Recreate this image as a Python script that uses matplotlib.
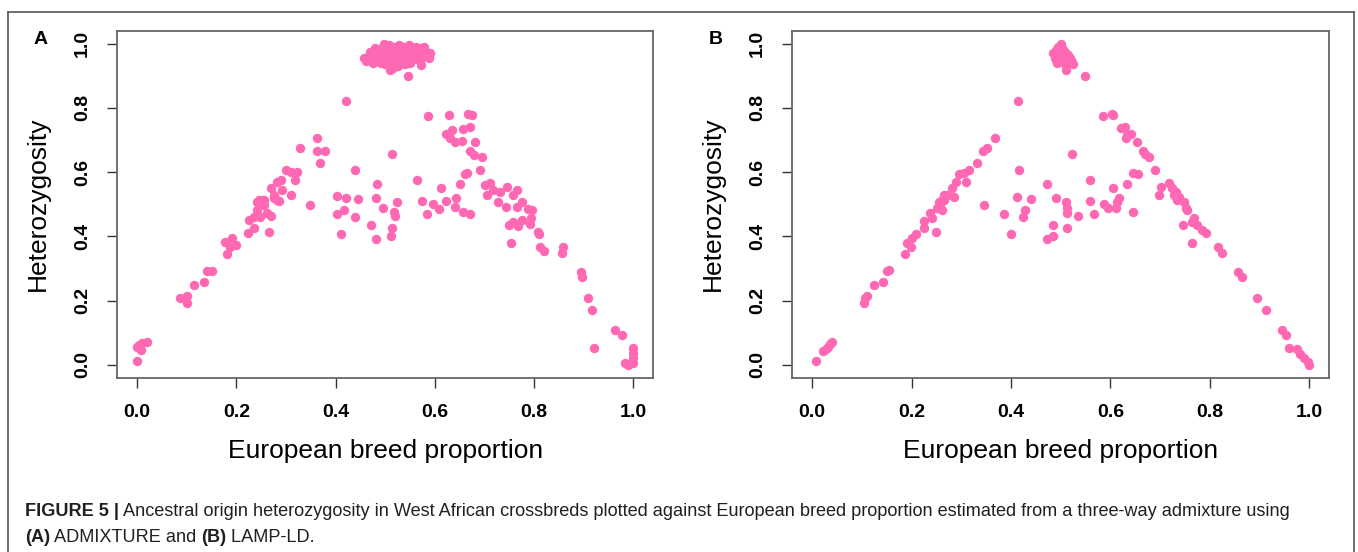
import numpy as np
import matplotlib
matplotlib.use("Agg")
import matplotlib.pyplot as plt
from matplotlib.lines import Line2D

plt.rcParams['font.family'] = ['Liberation Sans', 'DejaVu Sans']

# (European proportion, heterozygosity)
admixture_pts = [
    (0.000, 0.013), (0.004, 0.062), (0.020, 0.072), (0.007, 0.047), (0.000, 0.057), (0.010, 0.067),
    (0.086, 0.209), (0.100, 0.215), (0.100, 0.192), (0.115, 0.249), (0.134, 0.257), (0.141, 0.292),
    (0.150, 0.292), (0.182, 0.345), (0.178, 0.383), (0.192, 0.396), (0.200, 0.373), (0.188, 0.368),
    (0.223, 0.409), (0.235, 0.427), (0.225, 0.451), (0.266, 0.414),
    (0.242, 0.482), (0.248, 0.461), (0.255, 0.497), (0.262, 0.472), (0.269, 0.464), (0.242, 0.508),
    (0.252, 0.513), (0.275, 0.518), (0.285, 0.510), (0.235, 0.461), (0.245, 0.513), (0.255, 0.513),
    (0.282, 0.513), (0.275, 0.528), (0.309, 0.528), (0.269, 0.549), (0.292, 0.544), (0.282, 0.570),
    (0.289, 0.575), (0.299, 0.606), (0.309, 0.601), (0.322, 0.601), (0.319, 0.575),
    (0.349, 0.497), (0.328, 0.675), (0.363, 0.707), (0.363, 0.667), (0.378, 0.665), (0.368, 0.629),
    (0.421, 0.822), (0.403, 0.525), (0.420, 0.520), (0.444, 0.516), (0.439, 0.608), (0.483, 0.564),
    (0.481, 0.518), (0.403, 0.469), (0.416, 0.482), (0.439, 0.459), (0.411, 0.406), (0.472, 0.435),
    (0.482, 0.391), (0.495, 0.487), (0.517, 0.475), (0.520, 0.464), (0.513, 0.427), (0.511, 0.401),
    (0.514, 0.655), (0.524, 0.507), (0.574, 0.510), (0.584, 0.469), (0.597, 0.500), (0.609, 0.485),
    (0.564, 0.576), (0.613, 0.549),
    (0.586, 0.775), (0.628, 0.779), (0.666, 0.782), (0.674, 0.777), (0.671, 0.739), (0.656, 0.734),
    (0.623, 0.720), (0.634, 0.730), (0.631, 0.705), (0.641, 0.694), (0.654, 0.696), (0.680, 0.695),
    (0.670, 0.666), (0.678, 0.653), (0.695, 0.646), (0.664, 0.598), (0.661, 0.593), (0.691, 0.606),
    (0.623, 0.510), (0.643, 0.518), (0.641, 0.490), (0.656, 0.475), (0.670, 0.469), (0.651, 0.562),
    (0.701, 0.560), (0.711, 0.565), (0.718, 0.544), (0.705, 0.528), (0.731, 0.539), (0.745, 0.554),
    (0.765, 0.544), (0.758, 0.528), (0.775, 0.508), (0.728, 0.508), (0.743, 0.490), (0.765, 0.492),
    (0.788, 0.484), (0.795, 0.482), (0.794, 0.458), (0.792, 0.437), (0.750, 0.435), (0.758, 0.445),
    (0.768, 0.433), (0.775, 0.451), (0.754, 0.378),
    (0.808, 0.414), (0.810, 0.407), (0.812, 0.366), (0.820, 0.354), (0.859, 0.366), (0.856, 0.347),
    (0.894, 0.288), (0.896, 0.273), (0.909, 0.207), (0.916, 0.170), (0.963, 0.110), (0.976, 0.094),
    (0.921, 0.052), (1.000, 0.052), (1.000, 0.036), (1.000, 0.021), (1.000, 0.005), (0.983, 0.005),
    (0.990, 0.000),
    # dense group near 0.5 / 1.0
    (0.458, 0.955), (0.462, 0.945), (0.468, 0.960), (0.472, 0.950), (0.475, 0.940), (0.478, 0.965),
    (0.481, 0.955), (0.484, 0.945), (0.486, 0.975), (0.489, 0.960), (0.491, 0.940), (0.493, 0.985),
    (0.495, 0.970), (0.497, 1.000), (0.498, 0.950), (0.500, 0.990), (0.502, 0.960), (0.504, 0.975),
    (0.506, 0.940), (0.508, 0.995), (0.510, 0.955), (0.512, 0.985), (0.514, 0.945), (0.516, 0.970),
    (0.518, 0.990), (0.520, 0.955), (0.522, 0.980), (0.525, 0.945), (0.527, 0.995), (0.529, 0.965),
    (0.531, 0.985), (0.534, 0.950), (0.536, 0.975), (0.538, 0.990), (0.541, 0.960), (0.543, 0.945),
    (0.545, 0.980), (0.548, 0.995), (0.550, 0.965), (0.553, 0.950), (0.555, 0.985), (0.558, 0.970),
    (0.561, 0.990), (0.563, 0.955), (0.566, 0.975), (0.569, 0.945), (0.571, 0.985), (0.574, 0.965),
    (0.577, 0.990), (0.580, 0.960), (0.583, 0.975), (0.586, 0.965), (0.588, 0.955), (0.590, 0.970),
    (0.470, 0.975), (0.480, 0.985), (0.525, 0.930), (0.500, 0.935), (0.550, 0.940), (0.515, 0.925),
    (0.509, 0.917), (0.546, 0.899), (0.572, 0.933), (0.540, 0.936),
]

lampld_pts = [
    (0.007, 0.013), (0.022, 0.044), (0.027, 0.050), (0.031, 0.057), (0.035, 0.064), (0.040, 0.071),
    (0.104, 0.192), (0.107, 0.207), (0.111, 0.215), (0.125, 0.249), (0.142, 0.257), (0.151, 0.292),
    (0.154, 0.295), (0.186, 0.345), (0.191, 0.378), (0.198, 0.368), (0.201, 0.394), (0.208, 0.406),
    (0.225, 0.425), (0.226, 0.449), (0.242, 0.456), (0.238, 0.472), (0.250, 0.413),
    (0.252, 0.487), (0.258, 0.497), (0.262, 0.482), (0.255, 0.508), (0.265, 0.513), (0.268, 0.523),
    (0.285, 0.523), (0.262, 0.513), (0.272, 0.528), (0.265, 0.528), (0.282, 0.549), (0.289, 0.570),
    (0.309, 0.570), (0.295, 0.593), (0.305, 0.596), (0.315, 0.608), (0.332, 0.629), (0.344, 0.665),
    (0.352, 0.674), (0.368, 0.707), (0.414, 0.822),
    (0.346, 0.497), (0.385, 0.469), (0.401, 0.406), (0.413, 0.521), (0.440, 0.516), (0.417, 0.608),
    (0.424, 0.459), (0.428, 0.482), (0.472, 0.563), (0.491, 0.518), (0.485, 0.435), (0.485, 0.401),
    (0.472, 0.391), (0.511, 0.506), (0.513, 0.487), (0.513, 0.472), (0.512, 0.427), (0.535, 0.464),
    (0.523, 0.655), (0.559, 0.510), (0.567, 0.469), (0.559, 0.576),
    (0.587, 0.500), (0.595, 0.487), (0.611, 0.487), (0.614, 0.508), (0.617, 0.518), (0.646, 0.475),
    (0.606, 0.549), (0.633, 0.562),
    (0.586, 0.775), (0.606, 0.779), (0.603, 0.782), (0.621, 0.736), (0.629, 0.741), (0.634, 0.715),
    (0.641, 0.720), (0.631, 0.705), (0.653, 0.694), (0.665, 0.666), (0.669, 0.655), (0.677, 0.646),
    (0.689, 0.606), (0.646, 0.598), (0.656, 0.593),
    (0.698, 0.528), (0.701, 0.554), (0.718, 0.565), (0.725, 0.549), (0.732, 0.539), (0.738, 0.523),
    (0.748, 0.508), (0.728, 0.528), (0.735, 0.513), (0.752, 0.487), (0.755, 0.482), (0.746, 0.435),
    (0.764, 0.378), (0.768, 0.456), (0.765, 0.445), (0.775, 0.435), (0.785, 0.420), (0.792, 0.409),
    (0.817, 0.366), (0.824, 0.347), (0.857, 0.288), (0.864, 0.273), (0.895, 0.207), (0.914, 0.170),
    (0.945, 0.110), (0.954, 0.094), (0.960, 0.052), (0.975, 0.050), (0.982, 0.033), (0.990, 0.021),
    (0.997, 0.010), (1.000, 0.000),
    # narrow peak near 0.5 / 1.0
    (0.485, 0.970), (0.488, 0.955), (0.490, 0.980), (0.492, 0.940), (0.495, 0.990), (0.497, 0.965),
    (0.500, 1.000), (0.500, 0.950), (0.503, 0.985), (0.505, 0.960), (0.507, 0.940), (0.508, 0.975),
    (0.510, 0.955), (0.512, 0.935), (0.515, 0.965), (0.517, 0.945), (0.520, 0.950), (0.523, 0.940),
    (0.525, 0.935), (0.490, 0.950), (0.495, 0.945), (0.500, 0.970), (0.505, 0.980), (0.512, 0.960),
    (0.518, 0.955), (0.510, 0.917), (0.550, 0.899),
]

ticks = [0.0, 0.2, 0.4, 0.6, 0.8, 1.0]
tick_labels = ["0.0", "0.2", "0.4", "0.6", "0.8", "1.0"]
panels = [("A", admixture_pts), ("B", lampld_pts)]

W, H = 1358, 552
fig = plt.figure(figsize=(W / 100, H / 100), dpi=100)

# axes boxes in pixels: left, right, top, bottom
boxes = [(117.3, 653.3, 30.7, 377.7), (792.3, 1329.0, 30.7, 377.7)]

for (letter, pts), (l, r, t, b) in zip(panels, boxes):
    ax = fig.add_axes([l / W, 1 - b / H, (r - l) / W, (b - t) / H])
    arr = np.array(pts)
    ax.scatter(arr[:, 0], arr[:, 1], s=46, color="#FF69B4", linewidths=0, zorder=3)
    ax.set_xlim(-0.04, 1.04)
    ax.set_ylim(-0.04, 1.04)
    ax.set_xticks(ticks)
    ax.set_xticklabels(tick_labels, fontweight="bold", fontsize=14)
    ax.set_yticks(ticks)
    ax.set_yticklabels(tick_labels, fontweight="bold", fontsize=14, rotation=90, va="center")
    ax.tick_params(direction="out", length=7, width=1, color="#333333", pad=12)
    for sp in ax.spines.values():
        sp.set_color("#666666")
        sp.set_linewidth(1.3)
    ax.set_xlabel("European breed proportion", fontsize=19)
    ax.xaxis.set_label_coords(0.5, -0.178)
    ax.set_ylabel("Heterozygosity", fontsize=19)
    ax.yaxis.set_label_coords(-0.125, 0.5)
    fig.text((l - 77) / W, 1 - 40 / H, letter, fontsize=14, fontweight="bold",
             ha="center", va="center")

# outer frame of the figure panel
frame_kw = dict(color="#555555", linewidth=1.2, transform=fig.transFigure)
fig.add_artist(Line2D([8 / W, 1354 / W], [1 - 12 / H, 1 - 12 / H], **frame_kw))
fig.add_artist(Line2D([8 / W, 8 / W], [1 - 12 / H, 0], **frame_kw))
fig.add_artist(Line2D([1354 / W, 1354 / W], [1 - 12 / H, 0], **frame_kw))


def caption_line(runs, x0, y, size=13.1):
    renderer = fig.canvas.get_renderer()
    x = x0
    for txt, bold in runs:
        t = fig.text(x / W, 1 - y / H, txt, fontsize=size, va="center", ha="left",
                     fontweight="bold" if bold else "normal", color="#231f20")
        ext = t.get_window_extent(renderer)
        x += ext.width


caption_line([("FIGURE 5 |", True),
              (" Ancestral origin heterozygosity in West African crossbreds plotted against "
               "European breed proportion estimated from a three-way admixture using", False)],
             25, 512)
caption_line([("(A)", True), (" ADMIXTURE and ", False), ("(B)", True), (" LAMP-LD.", False)],
             25, 537)

fig.savefig("out.png", dpi=100)
